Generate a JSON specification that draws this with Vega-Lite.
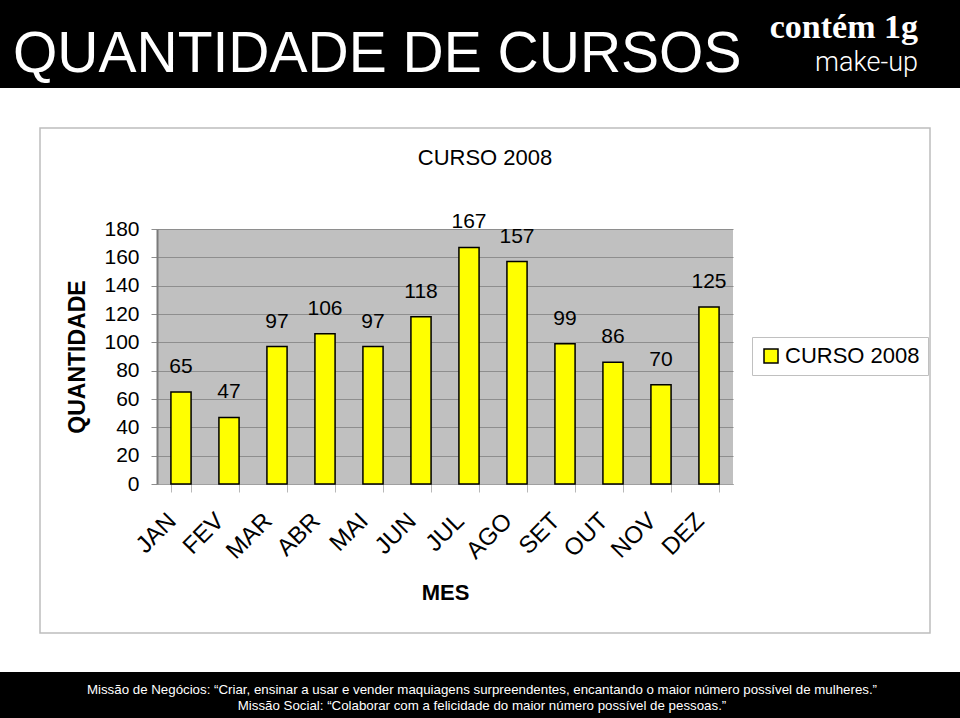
{
  "$schema": "https://vega.github.io/schema/vega-lite/v6.json",
  "width": 576,
  "height": 255,
  "autosize": {"type": "none"},
  "padding": {"left": 157, "top": 229, "right": 227, "bottom": 234},
  "background": "white",
  "config": {
    "view": {"fill": "#c0c0c0", "stroke": null},
    "font": "Liberation Sans",
    "text": {"font": "Liberation Sans"}
  },
  "data": {
    "values": [
      {"mes": "JAN", "quantidade": 65, "serie": "CURSO 2008"},
      {"mes": "FEV", "quantidade": 47, "serie": "CURSO 2008"},
      {"mes": "MAR", "quantidade": 97, "serie": "CURSO 2008"},
      {"mes": "ABR", "quantidade": 106, "serie": "CURSO 2008"},
      {"mes": "MAI", "quantidade": 97, "serie": "CURSO 2008"},
      {"mes": "JUN", "quantidade": 118, "serie": "CURSO 2008"},
      {"mes": "JUL", "quantidade": 167, "serie": "CURSO 2008"},
      {"mes": "AGO", "quantidade": 157, "serie": "CURSO 2008"},
      {"mes": "SET", "quantidade": 99, "serie": "CURSO 2008"},
      {"mes": "OUT", "quantidade": 86, "serie": "CURSO 2008"},
      {"mes": "NOV", "quantidade": 70, "serie": "CURSO 2008"},
      {"mes": "DEZ", "quantidade": 125, "serie": "CURSO 2008"}
    ]
  },
  "layer": [
    {
      "data": {"values": [{}]},
      "mark": {"type": "rect", "fill": "black", "stroke": null},
      "encoding": {"x": {"value": -157}, "x2": {"value": 803}, "y": {"value": -229}, "y2": {"value": -141}}
    },
    {
      "data": {"values": [{}]},
      "mark": {"type": "text", "text": "QUANTIDADE DE CURSOS", "align": "left", "baseline": "alphabetic", "fontSize": 57, "color": "white", "font": "Liberation Sans"},
      "encoding": {"x": {"value": -144}, "y": {"value": -157}}
    },
    {
      "data": {"values": [{}]},
      "mark": {"type": "text", "text": "contém 1g", "align": "right", "baseline": "alphabetic", "fontSize": 34, "fontWeight": "bold", "color": "white", "font": "Liberation Serif"},
      "encoding": {"x": {"value": 761}, "y": {"value": -191}}
    },
    {
      "data": {"values": [{}]},
      "mark": {"type": "text", "text": "make-up", "align": "right", "baseline": "alphabetic", "fontSize": 27, "fontWeight": 300, "color": "white", "font": "Roboto"},
      "encoding": {"x": {"value": 761}, "y": {"value": -158}}
    },
    {
      "data": {"values": [{}]},
      "mark": {"type": "rect", "fillOpacity": 0, "stroke": "#bdbdbd", "strokeWidth": 1.5},
      "encoding": {"x": {"value": -117}, "x2": {"value": 773}, "y": {"value": -101}, "y2": {"value": 404}}
    },
    {
      "data": {"values": [{}]},
      "mark": {"type": "text", "text": "CURSO 2008", "align": "center", "baseline": "middle", "fontSize": 22, "color": "black"},
      "encoding": {"x": {"value": 328}, "y": {"value": -71}}
    },
    {
      "data": {"values": [{}]},
      "mark": {"type": "rect", "fill": "black", "stroke": null},
      "encoding": {"x": {"value": -157}, "x2": {"value": 803}, "y": {"value": 443}, "y2": {"value": 489}}
    },
    {
      "data": {"values": [{}]},
      "mark": {"type": "text", "text": "Missão de Negócios: “Criar, ensinar a usar e vender maquiagens surpreendentes, encantando o maior número possível de mulheres.”", "align": "center", "baseline": "alphabetic", "fontSize": 13.3, "color": "white"},
      "encoding": {"x": {"value": 325}, "y": {"value": 465}}
    },
    {
      "data": {"values": [{}]},
      "mark": {"type": "text", "text": "Missão Social: “Colaborar com a felicidade do maior número possível de pessoas.”", "align": "center", "baseline": "alphabetic", "fontSize": 13.3, "color": "white"},
      "encoding": {"x": {"value": 325}, "y": {"value": 481}}
    },
    {
      "mark": {"type": "bar", "stroke": "black", "strokeWidth": 1.5, "opacity": 1},
      "encoding": {
        "x": {
          "field": "mes", "type": "ordinal", "sort": null,
          "scale": {"paddingInner": 0.58, "paddingOuter": 0.29},
          "axis": {
            "title": "MES", "titleFontSize": 22, "titleFontWeight": "bold", "titleColor": "black",
            "titleY": 108, "titleBaseline": "middle",
            "labelAngle": -45, "labelAlign": "right", "labelBaseline": "middle",
            "labelFontSize": 24, "labelColor": "black", "labelPadding": 25, "labelOffset": -9,
            "labelOverlap": false, "labelBound": false,
            "tickBand": "extent", "tickColor": "#b8b8b8", "tickSize": 8,
            "domainColor": "#a0a0a0", "domainWidth": 1, "grid": false
          }
        },
        "y": {
          "field": "quantidade", "type": "quantitative",
          "scale": {"domain": [0, 180], "nice": false},
          "axis": {
            "title": "QUANTIDADE", "titleFontSize": 23, "titleFontWeight": "bold", "titleColor": "black",
            "titleX": -80, "titleY": 127.5, "titleAngle": -90, "titleAlign": "center", "titleBaseline": "middle",
            "values": [0, 20, 40, 60, 80, 100, 120, 140, 160, 180],
            "labelFontSize": 21, "labelColor": "black", "labelPadding": 12,
            "labelOverlap": false, "labelBound": false, "labelFlush": false,
            "grid": true, "gridColor": "#8e8e8e", "gridWidth": 1.2,
            "tickColor": "#8e8e8e", "tickSize": 6,
            "domainColor": "#7a7a7a", "domainWidth": 2
          }
        },
        "color": {
          "field": "serie", "type": "nominal",
          "scale": {"range": ["#ffff00"]},
          "legend": {
            "orient": "none", "legendX": 595, "legendY": 108, "title": null,
            "fillColor": "white", "strokeColor": "#c0c0c0", "padding": 8,
            "labelFontSize": 22, "labelColor": "black", "labelFont": "Liberation Sans",
            "symbolType": "square", "symbolSize": 196, "symbolStrokeColor": "black",
            "symbolStrokeWidth": 1.5, "symbolOpacity": 1, "labelOffset": 3
          }
        }
      }
    },
    {
      "mark": {"type": "text", "dy": -19, "baseline": "alphabetic", "align": "center", "fontSize": 21, "color": "black"},
      "encoding": {
        "x": {
          "field": "mes", "type": "ordinal", "sort": null,
          "scale": {"paddingInner": 0.58, "paddingOuter": 0.29},
          "axis": {
            "title": "MES", "titleFontSize": 22, "titleFontWeight": "bold", "titleColor": "black",
            "titleY": 108, "titleBaseline": "middle",
            "labelAngle": -45, "labelAlign": "right", "labelBaseline": "middle",
            "labelFontSize": 24, "labelColor": "black", "labelPadding": 25, "labelOffset": -9,
            "labelOverlap": false, "labelBound": false,
            "tickBand": "extent", "tickColor": "#b8b8b8", "tickSize": 8,
            "domainColor": "#a0a0a0", "domainWidth": 1, "grid": false
          }
        },
        "y": {
          "field": "quantidade", "type": "quantitative",
          "scale": {"domain": [0, 180], "nice": false},
          "axis": {
            "title": "QUANTIDADE", "titleFontSize": 23, "titleFontWeight": "bold", "titleColor": "black",
            "titleX": -80, "titleY": 127.5, "titleAngle": -90, "titleAlign": "center", "titleBaseline": "middle",
            "values": [0, 20, 40, 60, 80, 100, 120, 140, 160, 180],
            "labelFontSize": 21, "labelColor": "black", "labelPadding": 12,
            "labelOverlap": false, "labelBound": false, "labelFlush": false,
            "grid": true, "gridColor": "#8e8e8e", "gridWidth": 1.2,
            "tickColor": "#8e8e8e", "tickSize": 6,
            "domainColor": "#7a7a7a", "domainWidth": 2
          }
        },
        "text": {"field": "quantidade", "type": "quantitative"}
      }
    }
  ]
}
